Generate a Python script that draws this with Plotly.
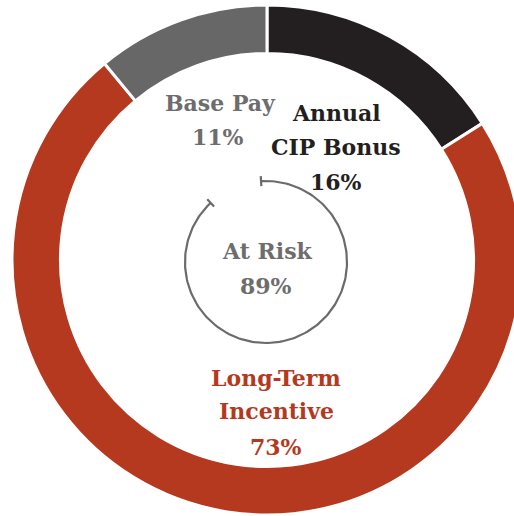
import numpy as np
import plotly.graph_objects as go

# ---- data ----
components = ["Annual CIP Bonus", "Long-Term Incentive", "Base Pay"]
shares = [16, 73, 11]
slice_colors = ["#231f20", "#b5391e", "#676767"]
at_risk_label = "At Risk"
at_risk_value = 89

W, H = 530, 516
cx, cy, R = 267, 260, 255  # donut centre / radius in pixels (from top-left)

fig = go.Figure()

fig.add_trace(go.Pie(
    labels=components,
    values=shares,
    sort=False,
    direction="clockwise",
    rotation=0,
    hole=0.81,
    marker=dict(colors=slice_colors, line=dict(color="white", width=3)),
    textinfo="none",
    hoverinfo="label+percent",
    showlegend=False,
    domain=dict(x=[(cx - R) / W, (cx + R) / W],
                y=[(H - cy - R) / H, (H - cy + R) / H]),
))

# ---- centre "At Risk" arc, driven by at_risk_value ----
acx, acy, ar = 266, H - 262, 81
start_deg = -3.5
span = 360 * at_risk_value / 100
theta = np.radians(np.linspace(start_deg, start_deg + span, 200))
ax_x = acx + ar * np.sin(theta)
ax_y = acy + ar * np.cos(theta)
fig.add_trace(go.Scatter(x=ax_x, y=ax_y, mode="lines",
                         line=dict(color="#6b6b6b", width=2.2),
                         hoverinfo="skip", showlegend=False))
# end ticks (radial)
for t in [theta[0], theta[-1]]:
    r0, r1 = ar - 5, ar + 5
    fig.add_trace(go.Scatter(
        x=[acx + r0 * np.sin(t), acx + r1 * np.sin(t)],
        y=[acy + r0 * np.cos(t), acy + r1 * np.cos(t)],
        mode="lines", line=dict(color="#6b6b6b", width=2.2),
        hoverinfo="skip", showlegend=False))

font_family = "DejaVu Serif"

def label(x, y, text, color, size=22):
    fig.add_annotation(x=x, y=H - y, xref="x", yref="y", text=f"<b>{text}</b>",
                       showarrow=False, font=dict(family=font_family, size=size, color=color),
                       xanchor="center", yanchor="middle")

label(220, 103, "Base Pay", "#6d6d6d")
label(218, 137, f"{shares[2]}%", "#6d6d6d")
label(336, 113, "Annual", "#231f20")
label(336, 147, "CIP Bonus", "#231f20")
label(336, 182, f"{shares[0]}%", "#231f20")
label(267, 251, at_risk_label, "#6d6d6d")
label(266, 286, f"{at_risk_value}%", "#6d6d6d")
label(276, 378, "Long-Term", "#b5391e")
label(276, 411, "Incentive", "#b5391e")
label(276, 447, f"{shares[1]}%", "#b5391e")

fig.update_layout(
    width=W, height=H,
    margin=dict(l=0, r=0, t=0, b=0),
    paper_bgcolor="white", plot_bgcolor="rgba(0,0,0,0)",
    xaxis=dict(range=[0, W], visible=False, domain=[0, 1], fixedrange=True),
    yaxis=dict(range=[0, H], visible=False, domain=[0, 1], fixedrange=True),
)

fig.write_html("out.html", config={"displayModeBar": False},
               post_script="document.body.style.margin='0';document.body.style.overflow='hidden';")
